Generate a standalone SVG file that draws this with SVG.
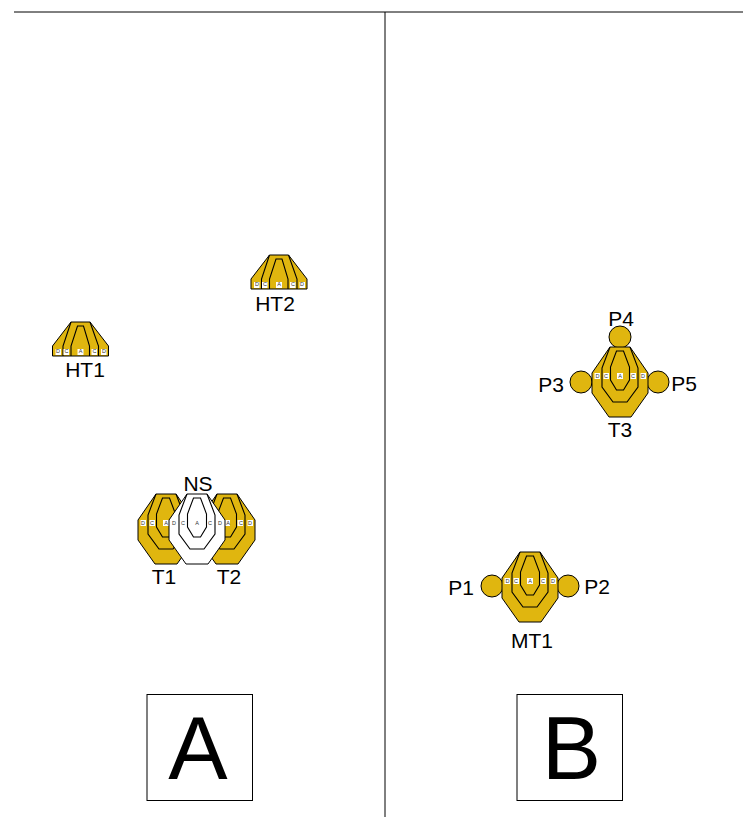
<svg xmlns="http://www.w3.org/2000/svg" width="743" height="817" viewBox="0 0 743 817">
<style>
text{font-family:"Liberation Sans",Arial,sans-serif;text-anchor:middle;fill:#000}
.lb{font-size:21px}
.sm{font-size:5.5px;fill:#333}
.big{font-size:89px}
.o{stroke:#000;stroke-width:1;stroke-linejoin:miter}
.g{fill:#e0b60f}
.w{fill:#fff}
.i{fill:none;stroke:#000;stroke-width:1.1;stroke-linejoin:miter}
.bx{fill:#fff;stroke:none}
.f{fill:#fff;stroke:#000;stroke-width:1}
.line{stroke:#000;stroke-width:1;fill:none}
</style>
<defs>
<g id="toothlines">
<path class="i" d="M-10 0L-18 21V40L-7 55H7L18 40V21L10 0"/>
<path class="i" d="M-3.500 4H3.500L9.500 20V33L3.500 43H-3.500L-9.500 33V20Z"/>
<rect class="bx" x="-25.500" y="26" width="5.500" height="6"/><rect class="bx" x="-16.500" y="26" width="5.500" height="6"/><rect class="bx" x="-3" y="26" width="6" height="6"/><rect class="bx" x="10.500" y="26" width="5.500" height="6"/><rect class="bx" x="20.500" y="26" width="5.500" height="6"/>
</g>
<path id="toothshape" d="M-10 0H10L28 26V46L11 70H-11L-28 46V26Z"/>
<g id="half">
<path class="o g" d="M-9.500 0H9.500L28 24V34H-28V24Z"/>
<path class="i" d="M-9.500 0L-17.500 24V34M9.500 0L18 24V34M-9.500 34V24L-3 4H3L9 24V34"/>
<rect class="bx" x="-25" y="27" width="5.500" height="6"/><rect class="bx" x="-17" y="27" width="5.500" height="6"/><rect class="bx" x="-3" y="27" width="6" height="6"/><rect class="bx" x="11" y="27" width="5.500" height="6"/><rect class="bx" x="20.500" y="27" width="5.500" height="6"/>
</g>
</defs>
<g id="frame"><path class="line" d="M14 12H743M385 12V817"/></g>
<g id="connectors"></g>
<g id="HT1"><use href="#half" x="80.500" y="322"/>
<text class="sm" x="58" y="353">D</text><text class="sm" x="66.500" y="353">C</text><text class="sm" x="80.500" y="353">A</text><text class="sm" x="94.500" y="353">C</text><text class="sm" x="104" y="353">D</text>
<text class="lb" x="85" y="377">HT1</text></g>
<g id="HT2"><use href="#half" x="279" y="255"/>
<text class="sm" x="257" y="286">D</text><text class="sm" x="265" y="286">C</text><text class="sm" x="279" y="286">A</text><text class="sm" x="293" y="286">C</text><text class="sm" x="302" y="286">D</text>
<text class="lb" x="275" y="311">HT2</text></g>
<g id="T1"><use href="#toothshape" x="166" y="494" class="o g"/><use href="#toothlines" x="166" y="494"/>
<text class="sm" x="143" y="525">D</text><text class="sm" x="152" y="525">C</text><text class="sm" x="166" y="525">A</text>
<text class="lb" x="164" y="584">T1</text></g>
<g id="T2"><use href="#toothshape" x="227" y="494" class="o g"/><use href="#toothlines" x="227" y="494"/>
<text class="sm" x="228" y="525">A</text><text class="sm" x="241" y="525">C</text><text class="sm" x="250" y="525">D</text>
<text class="lb" x="229" y="584">T2</text></g>
<g id="NS"><use href="#toothshape" x="197" y="494" class="o w"/><use href="#toothlines" x="197" y="494"/>
<text class="sm" x="174" y="525">D</text><text class="sm" x="183" y="525">C</text><text class="sm" x="197" y="525">A</text><text class="sm" x="210" y="525">C</text><text class="sm" x="220" y="525">D</text>
<text class="lb" x="198" y="491">NS</text></g>
<g id="P4"><circle class="o g" cx="620" cy="337" r="11"/><text class="lb" x="621" y="326">P4</text></g>
<g id="P3"><circle class="o g" cx="581" cy="382" r="11"/><text class="lb" x="551" y="392">P3</text></g>
<g id="P5"><circle class="o g" cx="658" cy="382" r="11"/><text class="lb" x="684" y="391">P5</text></g>
<g id="T3"><use href="#toothshape" x="620" y="347" class="o g"/><use href="#toothlines" x="620" y="347"/>
<text class="sm" x="597.500" y="378">D</text><text class="sm" x="606" y="378">C</text><text class="sm" x="620" y="378">A</text><text class="sm" x="633" y="378">C</text><text class="sm" x="643" y="378">D</text>
<text class="lb" x="620" y="437">T3</text></g>
<g id="P1"><circle class="o g" cx="492" cy="586" r="11"/><text class="lb" x="461" y="595">P1</text></g>
<g id="P2"><circle class="o g" cx="568" cy="586" r="11"/><text class="lb" x="597" y="594">P2</text></g>
<g id="MT1"><use href="#toothshape" x="530" y="552" class="o g"/><use href="#toothlines" x="530" y="552"/>
<text class="sm" x="507.500" y="583">D</text><text class="sm" x="516" y="583">C</text><text class="sm" x="530" y="583">A</text><text class="sm" x="543" y="583">C</text><text class="sm" x="553" y="583">D</text>
<text class="lb" x="532" y="648">MT1</text></g>
<g id="A"><rect class="f" x="147" y="694.500" width="105.500" height="106"/><text class="big" x="198" y="779">A</text></g>
<g id="B"><rect class="f" x="517" y="694.500" width="105.500" height="106"/><text class="big" x="571.500" y="779">B</text></g>
</svg>
